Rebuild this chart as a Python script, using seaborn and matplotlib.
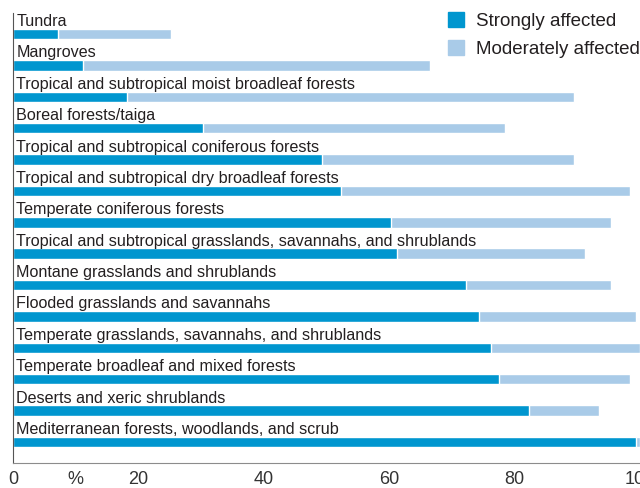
import matplotlib
matplotlib.use("Agg")
import matplotlib.pyplot as plt
from matplotlib.patches import Patch
import pandas as pd
import seaborn as sns

# values (percent of area)
biomes = [
    "Tundra",
    "Mangroves",
    "Tropical and subtropical moist broadleaf forests",
    "Boreal forests/taiga",
    "Tropical and subtropical coniferous forests",
    "Tropical and subtropical dry broadleaf forests",
    "Temperate coniferous forests",
    "Tropical and subtropical grasslands, savannahs, and shrublands",
    "Montane grasslands and shrublands",
    "Flooded grasslands and savannahs",
    "Temperate grasslands, savannahs, and shrublands",
    "Temperate broadleaf and mixed forests",
    "Deserts and xeric shrublands",
    "Mediterranean forests, woodlands, and scrub",
]
strongly = [7.2, 11.2, 18.2, 30.3, 49.3, 52.3, 60.3, 61.3, 72.3, 74.3, 76.3, 77.5, 82.3, 99.4]
moderately = [18.0, 55.3, 71.3, 48.1, 40.2, 46.1, 35.1, 30.0, 23.1, 25.1, 23.7, 20.9, 11.1, 0.6]
tick_values = [0, 10, 20, 40, 60, 80, 100]
tick_labels = ["0", "%", "20", "40", "60", "80", "100"]

STRONG = "#0096cf"
MODERATE = "#a9cbe8"
TEXT = "#231f20"

df = pd.DataFrame({"biome": biomes, "strong": strongly, "moderate": moderately})
df["total"] = df["strong"] + df["moderate"]

sns.set_theme(style="white")
plt.rcParams["font.family"] = ["Liberation Sans", "DejaVu Sans"]

fig = plt.figure(figsize=(6.4, 4.88), dpi=100)
ax = fig.add_axes([13 / 640, 1 - 463 / 488, 627 / 640, (463 - 12.7) / 488])

# light bar is the full extent, dark bar is drawn on top of it
sns.barplot(data=df, x="total", y="biome", orient="h", color=MODERATE,
            width=0.335, saturation=1, ax=ax)
sns.barplot(data=df, x="strong", y="biome", orient="h", color=STRONG,
            width=0.335, saturation=1, ax=ax)

for i, name in enumerate(biomes):
    ax.text(0.5, i - 0.255, name, ha="left", va="baseline", fontsize=11.6, color=TEXT)

ax.set_xlim(0, 100)
ax.set_ylim(len(biomes) - 1 + 0.67, -0.68)
ax.set_xlabel("")
ax.set_ylabel("")
ax.set_yticks([])
ax.set_xticks(tick_values)
ax.set_xticklabels(tick_labels, fontsize=13, color="#333333")
ax.tick_params(axis="x", direction="in", length=4, width=0.8, color="#333333", pad=6)
ax.xaxis.get_major_ticks()[1].tick1line.set_visible(False)

for side in ["top", "right"]:
    ax.spines[side].set_visible(False)
ax.spines["left"].set_color("#555555")
ax.spines["left"].set_linewidth(0.8)
ax.spines["bottom"].set_color("#8c8c8c")
ax.spines["bottom"].set_linewidth(0.8)

handles = [Patch(color=STRONG, label="Strongly affected"),
           Patch(color=MODERATE, label="Moderately affected")]
fig.legend(handles=handles, loc="upper left", bbox_to_anchor=(439 / 640, 1 - 3 / 488),
           frameon=False, fontsize=13.5, handlelength=0.85, handleheight=0.85,
           handletextpad=0.6, labelspacing=0.5, borderpad=0, labelcolor=TEXT)

fig.savefig("out.png", dpi=100)
